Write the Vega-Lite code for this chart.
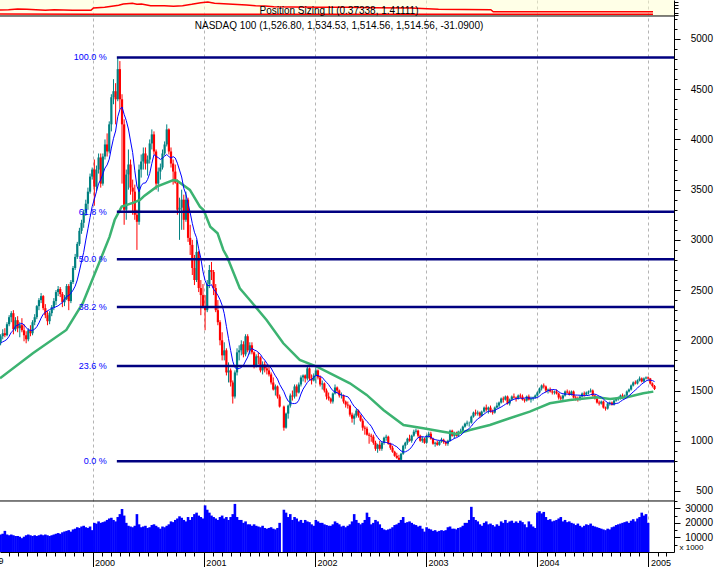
{
"$schema":"https://vega.github.io/schema/vega-lite/v6.json",
"autosize":{"type":"none"},
"padding":{"left":0,"top":0,"right":42,"bottom":15},
"background":"white",
"width":674,
"height":552,
"config":{"font":"Liberation Sans","view":{"stroke":null},"scale":{"continuousPadding":0},"axis":{"labelColor":"black","tickColor":"black","domainColor":"black","titleColor":"black","labelFontSize":10},"title":{"color":"black","subtitleColor":"black"}},
"title":{"text":"Position Sizing II (0.37338, 1.41111)","subtitle":"NASDAQ 100 (1,526.80, 1,534.53, 1,514.56, 1,514.56, -31.0900)","fontSize":10,"subtitleFontSize":10,"fontWeight":"normal","subtitleFontWeight":"normal","offset":-30.5,"subtitlePadding":5,"anchor":"middle","frame":"group","dx":2},
"datasets":{
"bars":[
{"d":"1999-03-05","o":1980,"h":2060,"l":1950,"c":2040,"m":1970,"v":12000},
{"d":"1999-03-12","o":2040,"h":2110,"l":2010,"c":2070,"m":1985,"v":12500},
{"d":"1999-03-19","o":2070,"h":2120,"l":2030,"c":2050,"m":1995,"v":14500},
{"d":"1999-03-26","o":2050,"h":2180,"l":2040,"c":2160,"m":2010,"v":12000},
{"d":"1999-04-02","o":2160,"h":2250,"l":2140,"c":2230,"m":2040,"v":11500},
{"d":"1999-04-09","o":2230,"h":2290,"l":2180,"c":2270,"m":2080,"v":12000},
{"d":"1999-04-16","o":2270,"h":2300,"l":2060,"c":2110,"m":2100,"v":11500},
{"d":"1999-04-23","o":2110,"h":2230,"l":2090,"c":2200,"m":2141,"v":11000},
{"d":"1999-04-30","o":2200,"h":2240,"l":2080,"c":2120,"m":2151,"v":11000},
{"d":"1999-05-07","o":2120,"h":2180,"l":2030,"c":2150,"m":2161,"v":10500},
{"d":"1999-05-14","o":2150,"h":2220,"l":2080,"c":2100,"m":2168,"v":9500},
{"d":"1999-05-21","o":2100,"h":2160,"l":1990,"c":2050,"m":2154,"v":10500},
{"d":"1999-05-28","o":2050,"h":2090,"l":1970,"c":2010,"m":2126,"v":11500},
{"d":"1999-06-04","o":2010,"h":2120,"l":1990,"c":2100,"m":2105,"v":12000},
{"d":"1999-06-11","o":2100,"h":2150,"l":2040,"c":2070,"m":2100,"v":11500},
{"d":"1999-06-18","o":2070,"h":2200,"l":2050,"c":2180,"m":2098,"v":11000},
{"d":"1999-06-25","o":2180,"h":2260,"l":2150,"c":2230,"m":2111,"v":11500},
{"d":"1999-07-02","o":2230,"h":2350,"l":2210,"c":2340,"m":2135,"v":11000},
{"d":"1999-07-09","o":2340,"h":2420,"l":2300,"c":2400,"m":2173,"v":11500},
{"d":"1999-07-16","o":2400,"h":2470,"l":2370,"c":2440,"m":2221,"v":12000},
{"d":"1999-07-23","o":2440,"h":2450,"l":2300,"c":2320,"m":2260,"v":11500},
{"d":"1999-07-30","o":2320,"h":2360,"l":2220,"c":2250,"m":2279,"v":12000},
{"d":"1999-08-06","o":2250,"h":2290,"l":2150,"c":2190,"m":2294,"v":11500},
{"d":"1999-08-13","o":2190,"h":2290,"l":2160,"c":2270,"m":2305,"v":11000},
{"d":"1999-08-20","o":2270,"h":2350,"l":2240,"c":2330,"m":2318,"v":11500},
{"d":"1999-08-27","o":2330,"h":2420,"l":2300,"c":2390,"m":2324,"v":12000},
{"d":"1999-09-03","o":2390,"h":2500,"l":2350,"c":2480,"m":2334,"v":12500},
{"d":"1999-09-10","o":2480,"h":2540,"l":2440,"c":2510,"m":2343,"v":13000},
{"d":"1999-09-17","o":2510,"h":2530,"l":2430,"c":2460,"m":2360,"v":12500},
{"d":"1999-09-24","o":2460,"h":2480,"l":2330,"c":2380,"m":2376,"v":13500},
{"d":"1999-10-01","o":2380,"h":2450,"l":2340,"c":2410,"m":2404,"v":14000},
{"d":"1999-10-08","o":2410,"h":2560,"l":2400,"c":2540,"m":2438,"v":14500},
{"d":"1999-10-15","o":2540,"h":2560,"l":2300,"c":2390,"m":2445,"v":15000},
{"d":"1999-10-22","o":2390,"h":2600,"l":2370,"c":2580,"m":2469,"v":14000},
{"d":"1999-10-29","o":2580,"h":2740,"l":2560,"c":2720,"m":2499,"v":15500},
{"d":"1999-11-05","o":2720,"h":2860,"l":2700,"c":2830,"m":2539,"v":16000},
{"d":"1999-11-12","o":2830,"h":2980,"l":2810,"c":2960,"m":2601,"v":17000},
{"d":"1999-11-19","o":2960,"h":3120,"l":2940,"c":3090,"m":2690,"v":16500},
{"d":"1999-11-26","o":3090,"h":3200,"l":3060,"c":3170,"m":2785,"v":17500},
{"d":"1999-12-03","o":3170,"h":3300,"l":3120,"c":3270,"m":2876,"v":18000},
{"d":"1999-12-10","o":3270,"h":3400,"l":3240,"c":3360,"m":2998,"v":17000},
{"d":"1999-12-17","o":3360,"h":3520,"l":3300,"c":3480,"m":3110,"v":16500},
{"d":"1999-12-24","o":3480,"h":3660,"l":3460,"c":3630,"m":3224,"v":17500},
{"d":"1999-12-31","o":3630,"h":3720,"l":3600,"c":3700,"m":3333,"v":15000},
{"d":"2000-01-07","o":3700,"h":3800,"l":3340,"c":3530,"m":3404,"v":20000},
{"d":"2000-01-14","o":3530,"h":3740,"l":3480,"c":3700,"m":3480,"v":19500},
{"d":"2000-01-21","o":3700,"h":3860,"l":3660,"c":3820,"m":3561,"v":21000},
{"d":"2000-01-28","o":3820,"h":3860,"l":3520,"c":3560,"m":3598,"v":20000},
{"d":"2000-02-04","o":3560,"h":3860,"l":3540,"c":3830,"m":3656,"v":20500},
{"d":"2000-02-11","o":3830,"h":4000,"l":3800,"c":3950,"m":3715,"v":21000},
{"d":"2000-02-18","o":3950,"h":4060,"l":3830,"c":3880,"m":3746,"v":22000},
{"d":"2000-02-25","o":3880,"h":4180,"l":3860,"c":4150,"m":3803,"v":23000},
{"d":"2000-03-03","o":4150,"h":4450,"l":4080,"c":4420,"m":3914,"v":23500},
{"d":"2000-03-10","o":4420,"h":4600,"l":4350,"c":4480,"m":4011,"v":22000},
{"d":"2000-03-17","o":4480,"h":4560,"l":4150,"c":4400,"m":4084,"v":21000},
{"d":"2000-03-24","o":4400,"h":4820,"l":4380,"c":4700,"m":4226,"v":24000},
{"d":"2000-03-31","o":4700,"h":4780,"l":4300,"c":4400,"m":4298,"v":26000},
{"d":"2000-04-07","o":4400,"h":4450,"l":3560,"c":4150,"m":4323,"v":29500},
{"d":"2000-04-14","o":4150,"h":4200,"l":3150,"c":3300,"m":4250,"v":25000},
{"d":"2000-04-21","o":3300,"h":3700,"l":3200,"c":3650,"m":4188,"v":20000},
{"d":"2000-04-28","o":3650,"h":3900,"l":3500,"c":3750,"m":4104,"v":18000},
{"d":"2000-05-05","o":3750,"h":3800,"l":3450,"c":3520,"m":3984,"v":17500},
{"d":"2000-05-12","o":3520,"h":3600,"l":3250,"c":3480,"m":3869,"v":17000},
{"d":"2000-05-19","o":3480,"h":3550,"l":3200,"c":3250,"m":3688,"v":18000},
{"d":"2000-05-26","o":3250,"h":3300,"l":2900,"c":3180,"m":3535,"v":26000},
{"d":"2000-06-02","o":3180,"h":3750,"l":3150,"c":3700,"m":3479,"v":19000},
{"d":"2000-06-09","o":3700,"h":3850,"l":3620,"c":3780,"m":3539,"v":17000},
{"d":"2000-06-16","o":3780,"h":3920,"l":3700,"c":3860,"m":3565,"v":17500},
{"d":"2000-06-23","o":3860,"h":3920,"l":3700,"c":3760,"m":3566,"v":18000},
{"d":"2000-06-30","o":3760,"h":3840,"l":3640,"c":3800,"m":3601,"v":16500},
{"d":"2000-07-07","o":3800,"h":4000,"l":3760,"c":3960,"m":3661,"v":17000},
{"d":"2000-07-14","o":3960,"h":4100,"l":3900,"c":4050,"m":3761,"v":18500},
{"d":"2000-07-21","o":4050,"h":4080,"l":3850,"c":3880,"m":3849,"v":19000},
{"d":"2000-07-28","o":3880,"h":3900,"l":3500,"c":3560,"m":3831,"v":18000},
{"d":"2000-08-04","o":3560,"h":3720,"l":3480,"c":3680,"m":3819,"v":17000},
{"d":"2000-08-11","o":3680,"h":3760,"l":3600,"c":3720,"m":3801,"v":16000},
{"d":"2000-08-18","o":3720,"h":3900,"l":3700,"c":3860,"m":3814,"v":17500},
{"d":"2000-08-25","o":3860,"h":3980,"l":3840,"c":3950,"m":3833,"v":17000},
{"d":"2000-09-01","o":3950,"h":4150,"l":3930,"c":4100,"m":3850,"v":18000},
{"d":"2000-09-08","o":4100,"h":4110,"l":3850,"c":3880,"m":3829,"v":19000},
{"d":"2000-09-15","o":3880,"h":3920,"l":3720,"c":3760,"m":3814,"v":21000},
{"d":"2000-09-22","o":3760,"h":3800,"l":3550,"c":3680,"m":3829,"v":20500},
{"d":"2000-09-29","o":3680,"h":3750,"l":3560,"c":3570,"m":3815,"v":22000},
{"d":"2000-10-06","o":3570,"h":3600,"l":3250,"c":3300,"m":3763,"v":23000},
{"d":"2000-10-13","o":3300,"h":3420,"l":3000,"c":3320,"m":3695,"v":24500},
{"d":"2000-10-20","o":3320,"h":3500,"l":3100,"c":3400,"m":3626,"v":23500},
{"d":"2000-10-27","o":3400,"h":3450,"l":3100,"c":3200,"m":3514,"v":22000},
{"d":"2000-11-03","o":3200,"h":3480,"l":3180,"c":3400,"m":3454,"v":21000},
{"d":"2000-11-10","o":3400,"h":3420,"l":2980,"c":3020,"m":3361,"v":24000},
{"d":"2000-11-17","o":3020,"h":3150,"l":2850,"c":2950,"m":3270,"v":22000},
{"d":"2000-11-24","o":2950,"h":3000,"l":2650,"c":2720,"m":3164,"v":24000},
{"d":"2000-12-01","o":2720,"h":2850,"l":2550,"c":2600,"m":3076,"v":26000},
{"d":"2000-12-08","o":2600,"h":3000,"l":2580,"c":2880,"m":3021,"v":27000},
{"d":"2000-12-15","o":2880,"h":2890,"l":2480,"c":2520,"m":2911,"v":25000},
{"d":"2000-12-22","o":2520,"h":2600,"l":2250,"c":2450,"m":2818,"v":24000},
{"d":"2000-12-29","o":2450,"h":2560,"l":2320,"c":2340,"m":2685,"v":23000},
{"d":"2001-01-05","o":2340,"h":2450,"l":2100,"c":2300,"m":2595,"v":32000},
{"d":"2001-01-12","o":2300,"h":2600,"l":2280,"c":2560,"m":2546,"v":29000},
{"d":"2001-01-19","o":2560,"h":2750,"l":2520,"c":2700,"m":2544,"v":27000},
{"d":"2001-01-26","o":2700,"h":2780,"l":2600,"c":2680,"m":2554,"v":25000},
{"d":"2001-02-02","o":2680,"h":2700,"l":2450,"c":2520,"m":2509,"v":24000},
{"d":"2001-02-09","o":2520,"h":2560,"l":2280,"c":2300,"m":2481,"v":23000},
{"d":"2001-02-16","o":2300,"h":2400,"l":2150,"c":2180,"m":2448,"v":22000},
{"d":"2001-02-23","o":2180,"h":2200,"l":1950,"c":2000,"m":2405,"v":24000},
{"d":"2001-03-02","o":2000,"h":2080,"l":1800,"c":1850,"m":2349,"v":25000},
{"d":"2001-03-09","o":1850,"h":1980,"l":1800,"c":1900,"m":2266,"v":23000},
{"d":"2001-03-16","o":1900,"h":1920,"l":1650,"c":1680,"m":2139,"v":24000},
{"d":"2001-03-23","o":1680,"h":1780,"l":1580,"c":1700,"m":2016,"v":22000},
{"d":"2001-03-30","o":1700,"h":1720,"l":1540,"c":1580,"m":1899,"v":24000},
{"d":"2001-04-06","o":1580,"h":1600,"l":1370,"c":1440,"m":1791,"v":26000},
{"d":"2001-04-13","o":1440,"h":1700,"l":1420,"c":1680,"m":1729,"v":33000},
{"d":"2001-04-20","o":1680,"h":1920,"l":1650,"c":1880,"m":1714,"v":24000},
{"d":"2001-04-27","o":1880,"h":1950,"l":1800,"c":1900,"m":1720,"v":22000},
{"d":"2001-05-04","o":1900,"h":2000,"l":1850,"c":1960,"m":1728,"v":22000},
{"d":"2001-05-11","o":1960,"h":1990,"l":1830,"c":1860,"m":1750,"v":20000},
{"d":"2001-05-18","o":1860,"h":2060,"l":1840,"c":2040,"m":1793,"v":21000},
{"d":"2001-05-25","o":2040,"h":2060,"l":1880,"c":1900,"m":1833,"v":19000},
{"d":"2001-06-01","o":1900,"h":1980,"l":1860,"c":1950,"m":1896,"v":19000},
{"d":"2001-06-08","o":1950,"h":1980,"l":1860,"c":1880,"m":1921,"v":18000},
{"d":"2001-06-15","o":1880,"h":1890,"l":1720,"c":1740,"m":1904,"v":19000},
{"d":"2001-06-22","o":1740,"h":1860,"l":1730,"c":1840,"m":1896,"v":18000},
{"d":"2001-06-29","o":1840,"h":1880,"l":1760,"c":1830,"m":1880,"v":17500},
{"d":"2001-07-06","o":1830,"h":1840,"l":1680,"c":1700,"m":1860,"v":17000},
{"d":"2001-07-13","o":1700,"h":1790,"l":1660,"c":1760,"m":1825,"v":18000},
{"d":"2001-07-20","o":1760,"h":1790,"l":1680,"c":1720,"m":1803,"v":16500},
{"d":"2001-07-27","o":1720,"h":1760,"l":1660,"c":1700,"m":1771,"v":16000},
{"d":"2001-08-03","o":1700,"h":1740,"l":1640,"c":1660,"m":1744,"v":16500},
{"d":"2001-08-10","o":1660,"h":1680,"l":1560,"c":1580,"m":1724,"v":17000},
{"d":"2001-08-17","o":1580,"h":1630,"l":1500,"c":1510,"m":1683,"v":16000},
{"d":"2001-08-24","o":1510,"h":1560,"l":1450,"c":1540,"m":1646,"v":15500},
{"d":"2001-08-31","o":1540,"h":1550,"l":1420,"c":1440,"m":1614,"v":16500},
{"d":"2001-09-07","o":1440,"h":1460,"l":1330,"c":1340,"m":1561,"v":20000},
{"d":"2001-09-21","o":1340,"h":1350,"l":1100,"c":1130,"m":1488,"v":29000},
{"d":"2001-09-28","o":1130,"h":1280,"l":1120,"c":1270,"m":1434,"v":27000},
{"d":"2001-10-05","o":1270,"h":1360,"l":1220,"c":1350,"m":1395,"v":24000},
{"d":"2001-10-12","o":1350,"h":1470,"l":1330,"c":1450,"m":1379,"v":26000},
{"d":"2001-10-19","o":1450,"h":1500,"l":1400,"c":1440,"m":1370,"v":22000},
{"d":"2001-10-26","o":1440,"h":1560,"l":1420,"c":1540,"m":1370,"v":24000},
{"d":"2001-11-02","o":1540,"h":1560,"l":1440,"c":1480,"m":1375,"v":23000},
{"d":"2001-11-09","o":1480,"h":1580,"l":1470,"c":1560,"m":1403,"v":21000},
{"d":"2001-11-16","o":1560,"h":1650,"l":1540,"c":1630,"m":1465,"v":22000},
{"d":"2001-11-23","o":1630,"h":1660,"l":1590,"c":1650,"m":1513,"v":20000},
{"d":"2001-11-30","o":1650,"h":1660,"l":1580,"c":1620,"m":1546,"v":22000},
{"d":"2001-12-07","o":1620,"h":1740,"l":1600,"c":1720,"m":1580,"v":21000},
{"d":"2001-12-14","o":1720,"h":1730,"l":1600,"c":1620,"m":1603,"v":20500},
{"d":"2001-12-21","o":1620,"h":1660,"l":1560,"c":1600,"m":1610,"v":19000},
{"d":"2001-12-28","o":1600,"h":1670,"l":1590,"c":1650,"m":1631,"v":18000},
{"d":"2002-01-04","o":1650,"h":1720,"l":1570,"c":1700,"m":1649,"v":22000},
{"d":"2002-01-11","o":1700,"h":1710,"l":1610,"c":1630,"m":1649,"v":21000},
{"d":"2002-01-18","o":1630,"h":1650,"l":1540,"c":1560,"m":1638,"v":20000},
{"d":"2002-01-25","o":1560,"h":1600,"l":1510,"c":1570,"m":1631,"v":20000},
{"d":"2002-02-01","o":1570,"h":1580,"l":1480,"c":1500,"m":1604,"v":19000},
{"d":"2002-02-08","o":1500,"h":1520,"l":1410,"c":1440,"m":1581,"v":18500},
{"d":"2002-02-15","o":1440,"h":1480,"l":1400,"c":1420,"m":1559,"v":18000},
{"d":"2002-02-22","o":1420,"h":1430,"l":1370,"c":1390,"m":1526,"v":18000},
{"d":"2002-03-01","o":1390,"h":1480,"l":1370,"c":1470,"m":1498,"v":19000},
{"d":"2002-03-08","o":1470,"h":1560,"l":1460,"c":1530,"m":1485,"v":21000},
{"d":"2002-03-15","o":1530,"h":1540,"l":1470,"c":1500,"m":1478,"v":20000},
{"d":"2002-03-22","o":1500,"h":1510,"l":1430,"c":1450,"m":1463,"v":19000},
{"d":"2002-03-29","o":1450,"h":1480,"l":1420,"c":1450,"m":1456,"v":17500},
{"d":"2002-04-05","o":1450,"h":1460,"l":1370,"c":1390,"m":1450,"v":18000},
{"d":"2002-04-12","o":1390,"h":1400,"l":1330,"c":1360,"m":1443,"v":17000},
{"d":"2002-04-19","o":1360,"h":1390,"l":1320,"c":1350,"m":1438,"v":18000},
{"d":"2002-04-26","o":1350,"h":1360,"l":1240,"c":1260,"m":1411,"v":19000},
{"d":"2002-05-03","o":1260,"h":1280,"l":1180,"c":1220,"m":1373,"v":21000},
{"d":"2002-05-10","o":1220,"h":1270,"l":1160,"c":1250,"m":1341,"v":26000},
{"d":"2002-05-17","o":1250,"h":1320,"l":1230,"c":1300,"m":1323,"v":22000},
{"d":"2002-05-24","o":1300,"h":1310,"l":1230,"c":1250,"m":1298,"v":20000},
{"d":"2002-05-31","o":1250,"h":1260,"l":1190,"c":1200,"m":1274,"v":19000},
{"d":"2002-06-07","o":1200,"h":1220,"l":1100,"c":1130,"m":1245,"v":20000},
{"d":"2002-06-14","o":1130,"h":1150,"l":1060,"c":1120,"m":1216,"v":22000},
{"d":"2002-06-21","o":1120,"h":1140,"l":1050,"c":1060,"m":1191,"v":27000},
{"d":"2002-06-28","o":1060,"h":1080,"l":970,"c":1050,"m":1170,"v":24000},
{"d":"2002-07-05","o":1050,"h":1070,"l":990,"c":1040,"m":1144,"v":19000},
{"d":"2002-07-12","o":1040,"h":1060,"l":960,"c":980,"m":1104,"v":20000},
{"d":"2002-07-19","o":980,"h":1000,"l":900,"c":920,"m":1063,"v":22000},
{"d":"2002-07-26","o":920,"h":970,"l":880,"c":960,"m":1033,"v":21000},
{"d":"2002-08-02","o":960,"h":1000,"l":900,"c":920,"m":1006,"v":19000},
{"d":"2002-08-09","o":920,"h":990,"l":900,"c":980,"m":989,"v":16500},
{"d":"2002-08-16","o":980,"h":1040,"l":960,"c":1030,"m":985,"v":15500},
{"d":"2002-08-23","o":1030,"h":1060,"l":1000,"c":1040,"m":984,"v":15000},
{"d":"2002-08-30","o":1040,"h":1050,"l":960,"c":970,"m":975,"v":15500},
{"d":"2002-09-06","o":970,"h":980,"l":910,"c":930,"m":969,"v":16000},
{"d":"2002-09-13","o":930,"h":950,"l":880,"c":890,"m":965,"v":17000},
{"d":"2002-09-20","o":890,"h":900,"l":840,"c":850,"m":951,"v":18500},
{"d":"2002-09-27","o":850,"h":880,"l":820,"c":830,"m":940,"v":19000},
{"d":"2002-10-04","o":830,"h":860,"l":800,"c":810,"m":919,"v":20000},
{"d":"2002-10-11","o":810,"h":880,"l":795,"c":870,"m":899,"v":22000},
{"d":"2002-10-18","o":870,"h":960,"l":860,"c":950,"m":888,"v":24000},
{"d":"2002-10-25","o":950,"h":990,"l":920,"c":980,"m":889,"v":20000},
{"d":"2002-11-01","o":980,"h":1030,"l":960,"c":1020,"m":900,"v":20500},
{"d":"2002-11-08","o":1020,"h":1060,"l":990,"c":1000,"m":914,"v":21000},
{"d":"2002-11-15","o":1000,"h":1060,"l":980,"c":1050,"m":939,"v":20000},
{"d":"2002-11-22","o":1050,"h":1110,"l":1040,"c":1090,"m":971,"v":19000},
{"d":"2002-11-29","o":1090,"h":1120,"l":1070,"c":1100,"m":1008,"v":18500},
{"d":"2002-12-06","o":1100,"h":1110,"l":1030,"c":1050,"m":1030,"v":17500},
{"d":"2002-12-13","o":1050,"h":1060,"l":990,"c":1000,"m":1036,"v":18000},
{"d":"2002-12-20","o":1000,"h":1040,"l":980,"c":1020,"m":1041,"v":16000},
{"d":"2002-12-27","o":1020,"h":1030,"l":970,"c":980,"m":1036,"v":14000},
{"d":"2003-01-03","o":980,"h":1060,"l":970,"c":1050,"m":1043,"v":17000},
{"d":"2003-01-10","o":1050,"h":1090,"l":1030,"c":1070,"m":1045,"v":16000},
{"d":"2003-01-17","o":1070,"h":1090,"l":1010,"c":1020,"m":1036,"v":15500},
{"d":"2003-01-24","o":1020,"h":1030,"l":960,"c":970,"m":1020,"v":14500},
{"d":"2003-01-31","o":970,"h":990,"l":940,"c":980,"m":1011,"v":15000},
{"d":"2003-02-07","o":980,"h":1000,"l":950,"c":960,"m":1006,"v":14000},
{"d":"2003-02-14","o":960,"h":1000,"l":950,"c":990,"m":1003,"v":14500},
{"d":"2003-02-21","o":990,"h":1030,"l":980,"c":1010,"m":1006,"v":15000},
{"d":"2003-02-28","o":1010,"h":1020,"l":970,"c":990,"m":999,"v":14500},
{"d":"2003-03-07","o":990,"h":1000,"l":950,"c":970,"m":986,"v":15000},
{"d":"2003-03-14","o":970,"h":1010,"l":950,"c":1000,"m":984,"v":17000},
{"d":"2003-03-21","o":1000,"h":1110,"l":990,"c":1100,"m":1000,"v":17500},
{"d":"2003-03-28","o":1100,"h":1110,"l":1040,"c":1050,"m":1009,"v":16000},
{"d":"2003-04-04","o":1050,"h":1090,"l":1020,"c":1070,"m":1023,"v":16000},
{"d":"2003-04-11","o":1070,"h":1090,"l":1040,"c":1050,"m":1030,"v":15500},
{"d":"2003-04-17","o":1050,"h":1100,"l":1040,"c":1090,"m":1040,"v":16500},
{"d":"2003-04-25","o":1090,"h":1120,"l":1070,"c":1100,"m":1054,"v":17000},
{"d":"2003-05-02","o":1100,"h":1150,"l":1090,"c":1140,"m":1075,"v":18000},
{"d":"2003-05-09","o":1140,"h":1180,"l":1130,"c":1170,"m":1096,"v":20000},
{"d":"2003-05-16","o":1170,"h":1200,"l":1150,"c":1180,"m":1106,"v":20000},
{"d":"2003-05-23","o":1180,"h":1190,"l":1140,"c":1180,"m":1123,"v":22000},
{"d":"2003-05-30","o":1180,"h":1250,"l":1170,"c":1240,"m":1144,"v":31000},
{"d":"2003-06-06","o":1240,"h":1290,"l":1230,"c":1280,"m":1173,"v":24000},
{"d":"2003-06-13","o":1280,"h":1310,"l":1250,"c":1270,"m":1195,"v":22000},
{"d":"2003-06-20","o":1270,"h":1300,"l":1250,"c":1280,"m":1218,"v":21000},
{"d":"2003-06-27","o":1280,"h":1290,"l":1230,"c":1250,"m":1231,"v":19000},
{"d":"2003-07-03","o":1250,"h":1300,"l":1240,"c":1290,"m":1246,"v":18000},
{"d":"2003-07-11","o":1290,"h":1340,"l":1280,"c":1330,"m":1265,"v":20000},
{"d":"2003-07-18","o":1330,"h":1360,"l":1290,"c":1310,"m":1281,"v":21000},
{"d":"2003-07-25","o":1310,"h":1340,"l":1270,"c":1330,"m":1293,"v":19000},
{"d":"2003-08-01","o":1330,"h":1350,"l":1280,"c":1290,"m":1294,"v":19500},
{"d":"2003-08-08","o":1290,"h":1310,"l":1260,"c":1280,"m":1295,"v":18500},
{"d":"2003-08-15","o":1280,"h":1340,"l":1270,"c":1330,"m":1301,"v":17500},
{"d":"2003-08-22","o":1330,"h":1380,"l":1320,"c":1350,"m":1314,"v":19000},
{"d":"2003-08-29","o":1350,"h":1390,"l":1330,"c":1380,"m":1325,"v":18000},
{"d":"2003-09-05","o":1380,"h":1430,"l":1370,"c":1420,"m":1336,"v":21000},
{"d":"2003-09-12","o":1420,"h":1440,"l":1380,"c":1410,"m":1349,"v":20000},
{"d":"2003-09-19","o":1410,"h":1450,"l":1400,"c":1440,"m":1363,"v":22000},
{"d":"2003-09-26","o":1440,"h":1450,"l":1360,"c":1370,"m":1373,"v":20000},
{"d":"2003-10-03","o":1370,"h":1420,"l":1350,"c":1410,"m":1389,"v":21000},
{"d":"2003-10-10","o":1410,"h":1450,"l":1400,"c":1440,"m":1403,"v":21500},
{"d":"2003-10-17","o":1440,"h":1470,"l":1420,"c":1430,"m":1413,"v":20000},
{"d":"2003-10-24","o":1430,"h":1440,"l":1390,"c":1420,"m":1418,"v":21000},
{"d":"2003-10-31","o":1420,"h":1460,"l":1410,"c":1450,"m":1421,"v":20000},
{"d":"2003-11-07","o":1450,"h":1470,"l":1420,"c":1440,"m":1425,"v":21500},
{"d":"2003-11-14","o":1440,"h":1460,"l":1400,"c":1410,"m":1421,"v":20500},
{"d":"2003-11-21","o":1410,"h":1420,"l":1380,"c":1400,"m":1425,"v":19000},
{"d":"2003-11-28","o":1400,"h":1450,"l":1390,"c":1440,"m":1429,"v":17000},
{"d":"2003-12-05","o":1440,"h":1460,"l":1400,"c":1410,"m":1425,"v":21000},
{"d":"2003-12-12","o":1410,"h":1440,"l":1380,"c":1420,"m":1424,"v":19000},
{"d":"2003-12-19","o":1420,"h":1440,"l":1400,"c":1430,"m":1425,"v":17500},
{"d":"2003-12-26","o":1430,"h":1460,"l":1420,"c":1450,"m":1425,"v":16500},
{"d":"2004-01-02","o":1450,"h":1490,"l":1440,"c":1480,"m":1430,"v":27000},
{"d":"2004-01-09","o":1480,"h":1530,"l":1470,"c":1520,"m":1444,"v":28000},
{"d":"2004-01-16","o":1520,"h":1560,"l":1500,"c":1550,"m":1463,"v":26500},
{"d":"2004-01-23","o":1550,"h":1570,"l":1520,"c":1540,"m":1475,"v":27500},
{"d":"2004-01-30","o":1540,"h":1550,"l":1480,"c":1500,"m":1486,"v":24000},
{"d":"2004-02-06","o":1500,"h":1520,"l":1470,"c":1510,"m":1498,"v":22000},
{"d":"2004-02-13","o":1510,"h":1530,"l":1480,"c":1490,"m":1505,"v":22500},
{"d":"2004-02-20","o":1490,"h":1510,"l":1460,"c":1480,"m":1509,"v":21000},
{"d":"2004-02-27","o":1480,"h":1500,"l":1460,"c":1490,"m":1510,"v":21500},
{"d":"2004-03-05","o":1490,"h":1510,"l":1460,"c":1470,"m":1504,"v":22000},
{"d":"2004-03-12","o":1470,"h":1480,"l":1410,"c":1430,"m":1489,"v":23000},
{"d":"2004-03-19","o":1430,"h":1450,"l":1400,"c":1420,"m":1474,"v":24000},
{"d":"2004-03-26","o":1420,"h":1460,"l":1400,"c":1450,"m":1468,"v":21000},
{"d":"2004-04-02","o":1450,"h":1500,"l":1440,"c":1490,"m":1465,"v":22000},
{"d":"2004-04-09","o":1490,"h":1510,"l":1470,"c":1480,"m":1464,"v":20500},
{"d":"2004-04-16","o":1480,"h":1500,"l":1450,"c":1460,"m":1461,"v":21000},
{"d":"2004-04-23","o":1460,"h":1500,"l":1450,"c":1490,"m":1461,"v":20000},
{"d":"2004-04-30","o":1490,"h":1500,"l":1420,"c":1430,"m":1456,"v":19500},
{"d":"2004-05-07","o":1430,"h":1450,"l":1400,"c":1420,"m":1455,"v":18500},
{"d":"2004-05-14","o":1420,"h":1440,"l":1390,"c":1410,"m":1454,"v":19500},
{"d":"2004-05-21","o":1410,"h":1450,"l":1400,"c":1440,"m":1453,"v":18000},
{"d":"2004-05-28","o":1440,"h":1480,"l":1430,"c":1470,"m":1450,"v":17000},
{"d":"2004-06-04","o":1470,"h":1490,"l":1440,"c":1460,"m":1448,"v":18000},
{"d":"2004-06-11","o":1460,"h":1490,"l":1450,"c":1480,"m":1450,"v":19000},
{"d":"2004-06-18","o":1480,"h":1500,"l":1460,"c":1490,"m":1450,"v":18500},
{"d":"2004-06-25","o":1490,"h":1520,"l":1480,"c":1500,"m":1459,"v":19500},
{"d":"2004-07-02","o":1500,"h":1510,"l":1440,"c":1450,"m":1463,"v":18000},
{"d":"2004-07-09","o":1450,"h":1460,"l":1410,"c":1420,"m":1464,"v":17500},
{"d":"2004-07-16","o":1420,"h":1430,"l":1370,"c":1380,"m":1456,"v":17000},
{"d":"2004-07-23","o":1380,"h":1400,"l":1350,"c":1370,"m":1444,"v":16500},
{"d":"2004-07-30","o":1370,"h":1400,"l":1360,"c":1390,"m":1435,"v":16000},
{"d":"2004-08-06","o":1390,"h":1400,"l":1320,"c":1330,"m":1416,"v":15500},
{"d":"2004-08-13","o":1330,"h":1340,"l":1300,"c":1320,"m":1395,"v":15000},
{"d":"2004-08-20","o":1320,"h":1380,"l":1310,"c":1370,"m":1379,"v":16000},
{"d":"2004-08-27","o":1370,"h":1390,"l":1350,"c":1380,"m":1370,"v":15500},
{"d":"2004-09-03","o":1380,"h":1390,"l":1350,"c":1360,"m":1363,"v":17000},
{"d":"2004-09-10","o":1360,"h":1410,"l":1350,"c":1400,"m":1365,"v":17500},
{"d":"2004-09-17","o":1400,"h":1430,"l":1390,"c":1420,"m":1371,"v":18500},
{"d":"2004-09-24","o":1420,"h":1440,"l":1400,"c":1420,"m":1375,"v":19000},
{"d":"2004-10-01","o":1420,"h":1460,"l":1410,"c":1450,"m":1390,"v":19500},
{"d":"2004-10-08","o":1450,"h":1470,"l":1430,"c":1440,"m":1405,"v":20000},
{"d":"2004-10-15","o":1440,"h":1460,"l":1420,"c":1450,"m":1415,"v":20500},
{"d":"2004-10-22","o":1450,"h":1500,"l":1440,"c":1490,"m":1429,"v":21000},
{"d":"2004-10-29","o":1490,"h":1520,"l":1480,"c":1510,"m":1448,"v":20000},
{"d":"2004-11-05","o":1510,"h":1560,"l":1500,"c":1550,"m":1466,"v":21500},
{"d":"2004-11-12","o":1550,"h":1590,"l":1540,"c":1580,"m":1486,"v":22500},
{"d":"2004-11-19","o":1580,"h":1600,"l":1560,"c":1570,"m":1505,"v":21000},
{"d":"2004-11-26","o":1570,"h":1610,"l":1560,"c":1600,"m":1524,"v":23000},
{"d":"2004-12-03","o":1600,"h":1640,"l":1590,"c":1620,"m":1546,"v":24000},
{"d":"2004-12-10","o":1620,"h":1630,"l":1580,"c":1590,"m":1564,"v":27000},
{"d":"2004-12-17","o":1590,"h":1630,"l":1580,"c":1620,"m":1580,"v":25000},
{"d":"2004-12-24","o":1620,"h":1640,"l":1610,"c":1630,"m":1595,"v":26000},
{"d":"2004-12-31","o":1630,"h":1640,"l":1610,"c":1620,"m":1604,"v":20000},
{"d":"2005-01-07","o":1620,"h":1625,"l":1560,"c":1570,"m":1603},
{"d":"2005-01-14","o":1570,"h":1580,"l":1530,"c":1545,"m":1599},
{"d":"2005-01-21","o":1545,"h":1555,"l":1505,"c":1515,"m":1589}
],
"ma":[
{"d":"1999-03-03","g":1622},{"d":"1999-06-19","g":1871},{"d":"1999-10-07","g":2103},{"d":"1999-11-30","g":2369},
{"d":"2000-01-24","g":2780},{"d":"2000-02-26","g":3030},{"d":"2000-03-14","g":3200},{"d":"2000-04-06","g":3331},
{"d":"2000-05-15","g":3370},{"d":"2000-06-05","g":3397},{"d":"2000-06-20","g":3440},{"d":"2000-07-30","g":3530},
{"d":"2000-09-23","g":3596},{"d":"2000-10-05","g":3589},{"d":"2000-11-16","g":3497},{"d":"2000-12-19","g":3331},
{"d":"2000-12-31","g":3297},{"d":"2001-01-22","g":3131},{"d":"2001-02-15","g":3066},{"d":"2001-03-06","g":2899},
{"d":"2001-03-18","g":2833},{"d":"2001-04-29","g":2518},{"d":"2001-06-01","g":2401},{"d":"2001-07-26","g":2203},
{"d":"2001-09-19","g":1970},{"d":"2001-11-12","g":1804},{"d":"2002-01-07","g":1738},{"d":"2002-03-02","g":1655},
{"d":"2002-04-26","g":1572},{"d":"2002-06-20","g":1456},{"d":"2002-08-14","g":1306},{"d":"2002-10-19","g":1157},
{"d":"2002-12-23","g":1124},{"d":"2003-02-26","g":1090},{"d":"2003-04-11","g":1067},{"d":"2003-05-25","g":1107},
{"d":"2003-07-30","g":1157},{"d":"2003-10-03","g":1224},{"d":"2003-12-08","g":1290},{"d":"2004-02-12","g":1373},
{"d":"2004-04-18","g":1406},{"d":"2004-07-15","g":1433},{"d":"2004-08-28","g":1416},{"d":"2004-10-22","g":1433},
{"d":"2004-12-15","g":1473},{"d":"2005-01-17","g":1489}
],
"ps":[
{"d":"1999-03-03","p":2.09,"s":"a"},{"d":"1999-03-31","p":2.21,"s":"a"},{"d":"1999-04-30","p":2.49,"s":"a"},{"d":"1999-05-30","p":2.37,"s":"a"},
{"d":"1999-06-29","p":2.21,"s":"a"},{"d":"1999-07-30","p":1.97,"s":"a"},{"d":"1999-08-28","p":2.21,"s":"a"},{"d":"1999-09-28","p":2.09,"s":"a"},
{"d":"1999-10-28","p":1.97,"s":"a"},{"d":"1999-12-27","p":1.97,"s":"a"},{"d":"2000-01-04","p":2.89,"s":"a"},{"d":"2000-02-10","p":3.17,"s":"a"},
{"d":"2000-03-27","p":3.97,"s":"a"},{"d":"2000-04-11","p":4.48,"s":"a"},{"d":"2000-05-11","p":4.76,"s":"a"},{"d":"2000-05-26","p":4.36,"s":"a"},
{"d":"2000-06-10","p":4.48,"s":"a"},{"d":"2000-07-10","p":3.81,"s":"a"},{"d":"2000-08-24","p":3.81,"s":"a"},{"d":"2000-09-23","p":3.57,"s":"a"},
{"d":"2000-10-23","p":3.81,"s":"a"},{"d":"2000-11-22","p":4.36,"s":"a"},{"d":"2000-12-22","p":5.0,"s":"a"},{"d":"2001-01-14","p":5.28,"s":"a"},
{"d":"2001-02-05","p":4.76,"s":"a"},{"d":"2001-03-22","p":4.48,"s":"a"},{"d":"2001-05-21","p":4.09,"s":"a"},{"d":"2001-06-20","p":3.81,"s":"a"},
{"d":"2001-07-20","p":3.69,"s":"a"},{"d":"2001-08-19","p":3.41,"s":"a"},{"d":"2001-10-18","p":3.29,"s":"a"},{"d":"2002-01-16","p":3.17,"s":"a"},
{"d":"2002-04-16","p":3.17,"s":"a"},{"d":"2002-07-15","p":3.01,"s":"a"},{"d":"2002-11-12","p":2.89,"s":"a"},{"d":"2003-02-11","p":2.37,"s":"a"},
{"d":"2003-08-02","p":2.21,"s":"a"},{"d":"2003-08-10","p":1.41,"s":"a"},{"d":"2005-01-16","p":1.41,"s":"a"},
{"d":"1999-03-03","p":0.45,"s":"b"},{"d":"2000-01-04","p":0.42,"s":"b"},{"d":"2005-01-16","p":0.37,"s":"b"}
],
"fib":[
{"lvl":4816,"lab":"100.0 %","d":"2000-03-21","e":"2005-03-26"},
{"lvl":3280,"lab":"61.8 %","d":"2000-03-21","e":"2005-03-26"},
{"lvl":2806,"lab":"50.0 %","d":"2000-03-21","e":"2005-03-26"},
{"lvl":2331,"lab":"38.2 %","d":"2000-03-21","e":"2005-03-26"},
{"lvl":1744,"lab":"23.6 %","d":"2000-03-21","e":"2005-03-26"},
{"lvl":795,"lab":"0.0 %","d":"2000-03-21","e":"2005-03-26"}
],
"panel":[{"top":5388,"bottom":5229,"low":400}],
"yr":[{"d":"1999-01-01","lab":"1999","v":0}]
},
"resolve":{"scale":{"y":"independent"},"axis":{"x":"independent","y":"independent"}},
"layer":[
{"data":{"name":"panel"},"mark":{"type":"rect","color":"#FFFFD0","opacity":0.5},
"encoding":{"y":{"field":"bottom","type":"quantitative","scale":{"domain":[-108,5388.3],"nice":false,"zero":false},"axis":null},"y2":{"field":"top"}}},
{"data":{"name":"bars"},"mark":{"type":"bar","color":"#0000FF","width":2.6,"clip":true},
"encoding":{
"x":{"field":"d","type":"temporal","scale":{"domain":[{"year":1999,"month":3,"date":3},{"year":2005,"month":3,"date":26}],"padding":0},"axis":{"orient":"bottom","tickCount":{"interval":"year","step":1},"format":"%Y","tickSize":16,"labelPadding":-10,"labelAlign":"left","labelOffset":2,"labelFontSize":9,"labelBaseline":"top","domain":true,"grid":true,"gridDash":[3,3],"gridColor":"#b4b4b4","title":null,"labelFlush":false,"labelOverlap":false}},
"y":{"field":"v","type":"quantitative","scale":{"domain":[0,378824],"nice":false,"zero":true},"axis":{"orient":"right","values":[10000,20000,30000],"format":"d","tickSize":6,"labelPadding":32.5,"labelAlign":"right","domain":false,"grid":false,"title":"x 1000","titleAngle":0,"titleX":5,"titleY":547,"titleAlign":"left","titleBaseline":"middle","titleFontSize":8,"titleFontWeight":"normal"}}}},
{"data":{"name":"bars"},"mark":{"type":"bar","opacity":0,"width":2.2,"clip":true},
"encoding":{
"x":{"field":"d","type":"temporal","scale":{"domain":[{"year":1999,"month":3,"date":3},{"year":2005,"month":3,"date":26}],"padding":0},"axis":{"orient":"bottom","tickCount":{"interval":"month","step":1},"tickSize":4,"labels":false,"domain":false,"grid":false,"title":null}},
"y":{"field":"v","type":"quantitative","scale":{"domain":[0,378824],"nice":false,"zero":true},"axis":{"orient":"right","values":[5000,10000,15000,20000,25000,30000,35000],"tickSize":3,"labels":false,"domain":false,"grid":false,"title":null}}}},
{"data":{"name":"yr"},"mark":{"type":"text","fontSize":9,"align":"left","baseline":"top","dx":2,"dy":5,"color":"black"},
"encoding":{
"x":{"field":"d","type":"temporal","scale":{"domain":[{"year":1999,"month":3,"date":3},{"year":2005,"month":3,"date":26}],"padding":0},"axis":null},
"y":{"field":"v","type":"quantitative","scale":{"domain":[0,378824],"nice":false,"zero":true},"axis":null},
"text":{"field":"lab"}}},
{"data":{"name":"ps"},"mark":{"type":"line","color":"#FF0000","strokeWidth":1.5,"clip":true},
"encoding":{
"x":{"field":"d","type":"temporal","scale":{"domain":[{"year":1999,"month":3,"date":3},{"year":2005,"month":3,"date":26}],"padding":0},"axis":null},
"y":{"field":"p","type":"quantitative","scale":{"domain":[-214.17,6.08],"nice":false,"zero":false},"axis":{"orient":"right","values":[0.1,1.0,2.8,4.1,5.4],"labels":false,"tickSize":4,"domain":false,"grid":false,"title":null}},
"detail":{"field":"s"}}},
{"data":{"name":"panel"},"mark":{"type":"rule","color":"black","strokeWidth":1},
"encoding":{"y":{"field":"bottom","type":"quantitative","scale":{"domain":[-108,5388.3],"nice":false,"zero":false},"axis":null}}},
{"data":{"name":"panel"},"mark":{"type":"rule","color":"black","strokeWidth":1},
"encoding":{"y":{"field":"low","type":"quantitative","scale":{"domain":[-108,5388.3],"nice":false,"zero":false},"axis":null}}},
{"data":{"name":"bars"},"mark":{"type":"rule","strokeWidth":1,"clip":true},
"encoding":{
"x":{"field":"d","type":"temporal","scale":{"domain":[{"year":1999,"month":3,"date":3},{"year":2005,"month":3,"date":26}],"padding":0},"axis":null},
"y":{"field":"l","type":"quantitative","scale":{"domain":[-108,5388.3],"nice":false,"zero":false},"axis":{"orient":"right","values":[500,1000,1500,2000,2500,3000,3500,4000,4500,5000],"format":"d","tickSize":6,"labelPadding":32.5,"labelAlign":"right","domain":true,"grid":false,"title":null}},
"y2":{"field":"h"},
"color":{"condition":{"test":"datum.c >= datum.o","value":"#008080"},"value":"#FF0000"}}},
{"data":{"name":"bars"},"mark":{"type":"bar","width":2.2,"clip":true},
"encoding":{
"x":{"field":"d","type":"temporal","scale":{"domain":[{"year":1999,"month":3,"date":3},{"year":2005,"month":3,"date":26}],"padding":0},"axis":null},
"y":{"field":"o","type":"quantitative","scale":{"domain":[-108,5388.3],"nice":false,"zero":false},"axis":{"orient":"right","values":[500,600,700,800,900,1000,1100,1200,1300,1400,1500,1600,1700,1800,1900,2000,2100,2200,2300,2400,2500,2600,2700,2800,2900,3000,3100,3200,3300,3400,3500,3600,3700,3800,3900,4000,4100,4200,4300,4400,4500,4600,4700,4800,4900,5000,5100,5200],"labels":false,"tickSize":3,"domain":false,"grid":false,"title":null}},
"y2":{"field":"c"},
"color":{"condition":{"test":"datum.c >= datum.o","value":"#008080"},"value":"#FF0000"}}},
{"data":{"name":"ma"},"mark":{"type":"line","color":"#3CB371","strokeWidth":2.5,"clip":true},
"encoding":{
"x":{"field":"d","type":"temporal","scale":{"domain":[{"year":1999,"month":3,"date":3},{"year":2005,"month":3,"date":26}],"padding":0},"axis":null},
"y":{"field":"g","type":"quantitative","scale":{"domain":[-108,5388.3],"nice":false,"zero":false},"axis":null}}},
{"data":{"name":"bars"},"mark":{"type":"line","color":"#0000FF","strokeWidth":1,"clip":true},
"encoding":{
"x":{"field":"d","type":"temporal","scale":{"domain":[{"year":1999,"month":3,"date":3},{"year":2005,"month":3,"date":26}],"padding":0},"axis":null},
"y":{"field":"m","type":"quantitative","scale":{"domain":[-108,5388.3],"nice":false,"zero":false},"axis":null}}},
{"data":{"name":"fib"},"mark":{"type":"rule","color":"#000080","strokeWidth":2.5,"clip":true},
"encoding":{
"x":{"field":"d","type":"temporal","scale":{"domain":[{"year":1999,"month":3,"date":3},{"year":2005,"month":3,"date":26}],"padding":0},"axis":null},
"x2":{"field":"e"},
"y":{"field":"lvl","type":"quantitative","scale":{"domain":[-108,5388.3],"nice":false,"zero":false},"axis":null}}},
{"data":{"name":"fib"},"mark":{"type":"text","color":"#0000FF","fontSize":9,"align":"right","baseline":"middle","dx":-10},
"encoding":{
"x":{"field":"d","type":"temporal","scale":{"domain":[{"year":1999,"month":3,"date":3},{"year":2005,"month":3,"date":26}],"padding":0},"axis":null},
"y":{"field":"lvl","type":"quantitative","scale":{"domain":[-108,5388.3],"nice":false,"zero":false},"axis":null},
"text":{"field":"lab"}}}
]
}
